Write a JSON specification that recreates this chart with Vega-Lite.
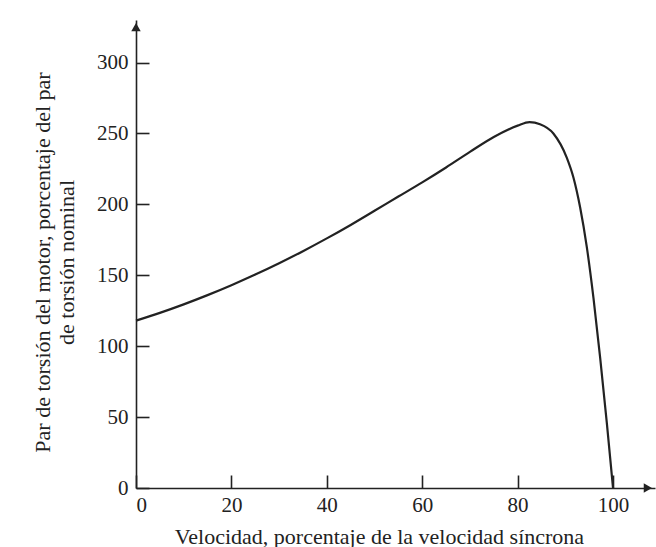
{
  "$schema": "https://vega.github.io/schema/vega-lite/v6.json",
  "width": 519,
  "height": 468,
  "autosize": {"type": "none"},
  "padding": {"left": 136, "top": 20, "right": 1, "bottom": 59},
  "background": "#ffffff",
  "config": {
    "view": {"stroke": null},
    "font": "Liberation Serif",
    "axis": {
      "domainColor": "#222222",
      "domainWidth": 1.6,
      "tickColor": "#222222",
      "tickWidth": 1.6,
      "tickSize": -13,
      "grid": false,
      "labelFont": "Liberation Serif",
      "labelFontSize": 21,
      "labelColor": "#222222",
      "titleFont": "Liberation Serif",
      "titleFontSize": 22,
      "titleFontWeight": "normal",
      "titleColor": "#222222"
    }
  },
  "layer": [
    {
      "data": {"values": [
        {"speed": 0, "torque": 118},
        {"speed": 5, "torque": 123.5},
        {"speed": 10, "torque": 129.5},
        {"speed": 15, "torque": 136},
        {"speed": 20, "torque": 143},
        {"speed": 25, "torque": 150.5},
        {"speed": 30, "torque": 158.5},
        {"speed": 35, "torque": 167},
        {"speed": 40, "torque": 176},
        {"speed": 45, "torque": 185.5},
        {"speed": 50, "torque": 195.5},
        {"speed": 55, "torque": 205.5},
        {"speed": 60, "torque": 215.5},
        {"speed": 65, "torque": 226},
        {"speed": 70, "torque": 237},
        {"speed": 75, "torque": 247.5},
        {"speed": 80, "torque": 255.5},
        {"speed": 82.5, "torque": 258},
        {"speed": 84.7, "torque": 256.5},
        {"speed": 87.5, "torque": 250},
        {"speed": 90.3, "torque": 233},
        {"speed": 91.7, "torque": 219},
        {"speed": 93.1, "torque": 198},
        {"speed": 94.5, "torque": 170},
        {"speed": 95.9, "torque": 134},
        {"speed": 97.3, "torque": 92},
        {"speed": 98.7, "torque": 46},
        {"speed": 100, "torque": 0}
      ]},
      "mark": {"type": "line", "interpolate": "monotone", "color": "#222222", "strokeWidth": 2.2},
      "encoding": {
        "x": {
          "field": "speed", "type": "quantitative",
          "scale": {"domain": [0, 108.8], "nice": false},
          "axis": {
            "values": [0, 20, 40, 60, 80, 100],
            "labelPadding": 19,
            "title": "Velocidad, porcentaje de la velocidad síncrona",
            "titleX": 243,
            "titleY": 48,
            "titleBaseline": "middle"
          }
        },
        "y": {
          "field": "torque", "type": "quantitative",
          "scale": {"domain": [0, 330], "nice": false},
          "axis": {
            "values": [0, 50, 100, 150, 200, 250, 300],
            "labelPadding": 21,
            "title": ["Par de torsión del motor, porcentaje del par", "de torsión nominal"],
            "titleX": -94,
            "titleY": 242,
            "titleAlign": "center",
            "titleBaseline": "middle",
            "titleLineHeight": 24
          }
        }
      }
    },
    {
      "data": {"values": [
        {"speed": 107.3, "torque": 0, "dir": "right"},
        {"speed": 0, "torque": 325, "dir": "up"}
      ]},
      "mark": {"type": "point", "filled": true, "color": "#222222", "opacity": 1, "size": 90},
      "encoding": {
        "x": {"field": "speed", "type": "quantitative"},
        "y": {"field": "torque", "type": "quantitative"},
        "shape": {
          "field": "dir", "type": "nominal",
          "scale": {"domain": ["right", "up"], "range": ["triangle-right", "triangle-up"]},
          "legend": null
        }
      }
    }
  ]
}
